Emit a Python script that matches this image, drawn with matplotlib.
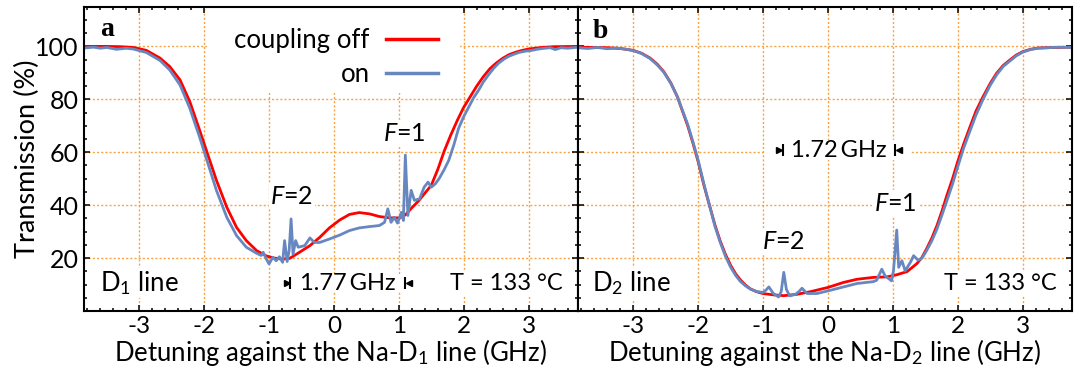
import matplotlib
matplotlib.use('Agg')
import matplotlib.pyplot as plt
from matplotlib.ticker import MultipleLocator, FixedLocator
from matplotlib.patches import Rectangle
from matplotlib.lines import Line2D

plt.rcParams['font.family'] = ['Lato', 'DejaVu Sans']
plt.rcParams['mathtext.fontset'] = 'custom'
plt.rcParams['mathtext.rm'] = 'Lato'
plt.rcParams['mathtext.it'] = 'Lato:italic'
plt.rcParams['axes.unicode_minus'] = False
plt.rcParams['font.size'] = 16

# colours
red = '#ff0000'
blue = '#6787c0'
grid_col = '#f5a443'

# ---- panel a : Na-D1 line, transmission (%) vs detuning (GHz) ----
off_a_x = [-3.85, -3.5, -3.3, -3.09, -2.89, -2.68, -2.53, -2.37, -2.22, -2.07, -1.94, -1.81,
           -1.65, -1.50, -1.35, -1.19, -1.04, -0.92, -0.8, -0.68, -0.53, -0.37, -0.22, -0.07,
           0.09, 0.24, 0.39, 0.55, 0.70, 0.86, 1.01, 1.1, 1.2, 1.3, 1.4, 1.5, 1.6, 1.7, 1.8,
           1.9, 2.0, 2.1, 2.2, 2.3, 2.4, 2.5, 2.6, 2.7, 2.8, 2.9, 3.0, 3.2, 3.4, 3.76]
off_a_y = [100.0, 100.0, 99.9, 99.6, 98.5, 95.6, 92.4, 87.3, 79.1, 68.4, 58.9, 49.4,
           39.2, 31.6, 26.6, 22.8, 20.8, 20.0, 19.6, 19.9, 22.2, 24.7, 27.8, 31.4,
           34.4, 36.5, 37.2, 36.7, 35.7, 35.2, 35.2, 36.3, 39.0, 41.5, 44.5, 47.5, 53.5, 60.5, 66.5,
           72.0, 77.0, 81.0, 85.0, 88.5, 91.5, 93.7, 95.5, 96.9, 97.8, 98.5, 99.0, 99.6, 99.9, 100.0]

on_a_x = [-3.85, -3.7, -3.6, -3.5, -3.35, -3.2, -3.09, -2.89, -2.68, -2.53, -2.37, -2.22,
          -2.07, -1.94, -1.81, -1.65, -1.50, -1.35, -1.19, -1.12, -1.09, -1.04, -1.0, -0.94,
          -0.89, -0.84, -0.79, -0.76, -0.72, -0.69, -0.66, -0.63, -0.59, -0.55, -0.45, -0.37,
          -0.30, -0.22, -0.07, 0.09, 0.24, 0.39, 0.55, 0.70, 0.78, 0.83, 0.88, 0.93, 0.98,
          1.04, 1.07, 1.10, 1.14, 1.19, 1.24, 1.32, 1.39, 1.45, 1.50, 1.56, 1.62, 1.70, 1.77,
          1.85, 1.92, 2.0, 2.08, 2.15, 2.23, 2.3, 2.38, 2.46, 2.54, 2.62, 2.69, 2.77, 2.85,
          2.95, 3.05, 3.15, 3.25, 3.33, 3.41, 3.5, 3.6, 3.76]
on_a_y = [99.4, 99.7, 99.3, 99.6, 98.9, 99.3, 99.0, 97.7, 94.7, 91.1, 85.4, 76.6,
          65.8, 55.7, 45.6, 35.4, 28.5, 24.1, 21.8, 21.0, 22.2, 19.6, 17.8, 20.3,
          19.0, 20.5, 18.4, 26.6, 18.7, 22.8, 34.8, 21.5, 26.6, 24.1, 24.7, 27.6,
          25.9, 25.9, 27.2, 28.7, 30.4, 31.4, 31.9, 32.3, 33.5, 38.6, 33.5, 35.4, 33.2,
          37.3, 34.2, 58.9, 36.1, 45.6, 41.8, 42.4, 46.8, 48.7, 46.8, 48.0, 50.0, 53.5, 57.0,
          63.0, 69.0, 73.5, 77.2, 80.5, 83.5, 86.5, 89.2, 91.7, 93.7, 95.2, 96.2, 97.0, 97.7,
          98.2, 98.5, 99.0, 99.3, 99.5, 98.8, 99.5, 99.3, 99.7]

# ---- panel b : Na-D2 line ----
off_b_x = [-3.85, -3.4, -3.2, -3.0, -2.87, -2.74, -2.63, -2.53, -2.42, -2.32, -2.24, -2.16,
           -2.08, -2.0, -1.91, -1.82, -1.74, -1.66, -1.58, -1.50, -1.42, -1.35, -1.27, -1.19,
           -1.1, -1.0, -0.84, -0.68, -0.48, -0.27, 0.0, 0.24, 0.45, 0.70, 0.91, 1.06, 1.22,
           1.37, 1.45, 1.52, 1.6, 1.68, 1.76, 1.83, 1.92, 2.0, 2.09, 2.18, 2.28, 2.39, 2.5,
           2.6, 2.7, 2.81, 2.9, 3.0, 3.12, 3.24, 3.5, 3.76]
off_b_y = [99.7, 99.5, 99.2, 98.5, 97.4, 95.6, 93.3, 90.5, 86.2, 81.0, 75.5, 70.0,
           63.5, 56.5, 47.5, 39.5, 32.5, 26.5, 21.5, 17.3, 14.0, 11.8, 9.8, 8.3,
           7.3, 6.6, 6.1, 5.8, 6.3, 7.3, 8.9, 10.8, 12.0, 12.7, 12.9, 13.7, 14.9,
           17.9, 20.3, 23.5, 27.5, 32.3, 38.0, 43.5, 50.0, 56.5, 63.0, 69.0, 75.5, 81.0, 86.0,
           89.9, 92.8, 95.0, 96.7, 98.0, 98.9, 99.4, 99.6, 99.7]

on_b_x = [-3.85, -3.7, -3.55, -3.4, -3.25, -3.1, -3.0, -2.87, -2.74, -2.63, -2.53, -2.42,
          -2.32, -2.24, -2.16, -2.08, -2.0, -1.91, -1.82, -1.74, -1.66, -1.58, -1.50, -1.42,
          -1.35, -1.27, -1.19, -1.1, -1.0, -0.95, -0.91, -0.84, -0.76, -0.72, -0.68, -0.64,
          -0.59, -0.50, -0.44, -0.40, -0.32, -0.17, 0.0, 0.24, 0.45, 0.70, 0.75, 0.83, 0.88,
          0.98, 1.01, 1.06, 1.09, 1.14, 1.19, 1.27, 1.32, 1.39, 1.45, 1.52, 1.6, 1.68, 1.76,
          1.83, 1.92, 2.0, 2.09, 2.18, 2.28, 2.39, 2.5, 2.6, 2.7, 2.81, 2.9, 3.0, 3.12, 3.24,
          3.4, 3.55, 3.76]
on_b_y = [99.5, 99.2, 99.6, 99.1, 99.4, 98.9, 98.4, 97.3, 95.4, 93.0, 90.3, 86.0,
          81.0, 75.8, 70.5, 64.0, 57.0, 48.0, 39.5, 32.0, 26.0, 20.8, 16.6, 13.4,
          11.2, 9.5, 8.2, 7.4, 7.0, 8.0, 9.1, 6.6, 5.3, 7.3, 14.6, 8.2,
          5.7, 6.3, 7.5, 8.6, 6.6, 6.6, 7.6, 9.1, 10.4, 11.1, 11.6, 15.8, 13.3,
          11.4, 15.2, 30.6, 16.5, 19.0, 15.2, 18.4, 20.9, 19.2, 20.0, 22.8, 26.5, 31.0, 36.5,
          41.5, 48.0, 54.5, 61.5, 67.5, 74.0, 80.0, 85.3, 89.3, 92.4, 94.6, 96.4, 97.8, 98.8, 99.3,
          99.5, 99.7, 99.6]

y_ticks = [20, 40, 60, 80, 100]
legend_labels = ['coupling off', 'on']

# hyperfine splittings (bar positions of the |<->| markers)
split_a = (-0.67, 1.10, '1.77 GHz')
split_b = (-0.69, 1.03, '1.72 GHz')

fig = plt.figure(figsize=(10.8, 3.68), dpi=100)
ax_a = fig.add_axes([84/1080, 57/368, 494/1080, 304.3/368])
ax_b = fig.add_axes([578/1080, 57/368, 494/1080, 304.3/368])

box = dict(facecolor='white', edgecolor='none', pad=1.0)


def style_axes(ax, sub):
    ax.set_xlim(-3.85, 3.76)
    ax.set_ylim(0, 115)
    ax.xaxis.set_major_locator(MultipleLocator(1))
    ax.xaxis.set_minor_locator(MultipleLocator(0.2))
    ax.yaxis.set_major_locator(FixedLocator(y_ticks))
    ax.yaxis.set_minor_locator(MultipleLocator(5))
    ax.set_axisbelow(True)
    ax.grid(True, which='major', color=grid_col, ls=(0, (1.5, 1.5)), lw=1.0)
    ax.tick_params(which='both', direction='in', top=True, right=True, width=1.1, labelsize=18)
    ax.tick_params(which='major', length=4.5)
    ax.tick_params(which='minor', length=2.5)
    ax.tick_params(axis='x', pad=3.5, labelsize=17.5)
    ax.tick_params(axis='y', pad=4)
    for s in ax.spines.values():
        s.set_linewidth(1.5)
    ax.set_xlabel('Detuning against the Na-D$_\\mathrm{' + sub + '}$ line (GHz)', fontsize=18.5, labelpad=0)


def draw_split(ax, split, ytxt):
    x1, x2, label = split
    ax.plot([x1], [ytxt], marker='|', ms=9, mew=1.5, color='black', zorder=3)
    ax.plot([x1 - 0.06], [ytxt], marker='>', ms=5, color='black', zorder=3)
    ax.plot([x2], [ytxt], marker='|', ms=9, mew=1.5, color='black', zorder=3)
    ax.plot([x2 + 0.06], [ytxt], marker='<', ms=5, color='black', zorder=3)
    ax.text((x1 + x2) / 2 + 0.0, ytxt, label.replace(' ', '\u2009'), ha='center', va='center',
            fontsize=17, zorder=1.5)


# panel a
style_axes(ax_a, '1')
ax_a.plot(off_a_x, off_a_y, color=red, lw=2.0, zorder=2)
ax_a.plot(on_a_x, on_a_y, color=blue, lw=2.0, zorder=2.1)
ax_a.set_ylabel('Transmission (%)', fontsize=19.5, labelpad=-4)
ax_a.add_patch(Rectangle((-1.96, 82.4), 3.9, 40, facecolor='white', edgecolor='none', zorder=1))
handles = [Line2D([], [], color=red, lw=2.5), Line2D([], [], color=blue, lw=2.5)]
ax_a.legend(handles, legend_labels, loc='upper right', bbox_to_anchor=(1.60, 106.8),
            bbox_transform=ax_a.transData, frameon=False, markerfirst=False,
            handlelength=2.0, handletextpad=0.65, labelspacing=0.32, borderpad=0,
            borderaxespad=0, fontsize=18.5)
ax_a.text(-3.6, 106.2, 'a', fontfamily='Liberation Serif', fontweight='bold', fontsize=20,
          va='center', ha='left', bbox=box, zorder=1.5)
ax_a.text(-0.65, 43.4, '$F$=2', ha='center', va='center', fontsize=18, bbox=box, zorder=1.5)
ax_a.text(1.09, 67.0, '$F$=1', ha='center', va='center', fontsize=18, bbox=box, zorder=1.5)
ax_a.text(-3.61, 10.6, 'D$_\\mathrm{1}$ line', ha='left', va='center', fontsize=18.5, bbox=box, zorder=1.5)
ax_a.text(3.53, 10.4, 'T = 133 °C', ha='right', va='center', fontsize=17, bbox=box, zorder=1.5)
ax_a.add_patch(Rectangle((-0.8, 7.0), 2.05, 7.0, facecolor='white', edgecolor='none', zorder=1))
draw_split(ax_a, split_a, 10.4)

# panel b
style_axes(ax_b, '2')
ax_b.tick_params(labelleft=False)
ax_b.plot(off_b_x, off_b_y, color=red, lw=2.0, zorder=2)
ax_b.plot(on_b_x, on_b_y, color=blue, lw=2.0, zorder=2.1)
ax_b.text(-3.63, 105.7, 'b', fontfamily='Liberation Serif', fontweight='bold', fontsize=20,
          va='center', ha='left', bbox=box, zorder=1.5)
ax_b.text(-0.69, 26.3, '$F$=2', ha='center', va='center', fontsize=18, bbox=box, zorder=1.5)
ax_b.text(1.03, 40.8, '$F$=1', ha='center', va='center', fontsize=18, bbox=box, zorder=1.5)
ax_b.text(-3.63, 10.4, 'D$_\\mathrm{2}$ line', ha='left', va='center', fontsize=18.5, bbox=box, zorder=1.5)
ax_b.text(3.52, 10.4, 'T = 133 °C', ha='right', va='center', fontsize=17, bbox=box, zorder=1.5)
ax_b.add_patch(Rectangle((-0.95, 57.0), 2.23, 7.5, facecolor='white', edgecolor='none', zorder=1))
draw_split(ax_b, split_b, 60.8)

fig.savefig('out.png', dpi=100)
